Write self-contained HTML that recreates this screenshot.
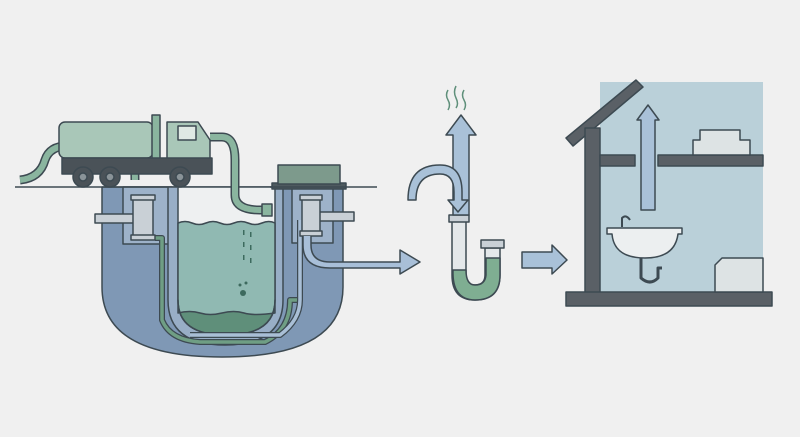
<!DOCTYPE html>
<html><head><meta charset="utf-8"><style>html,body{margin:0;padding:0;background:#f0f0f0}svg{display:block}</style></head>
<body>
<svg width="800" height="437" viewBox="0 0 800 437" xmlns="http://www.w3.org/2000/svg">
<rect width="800" height="437" fill="#f0f0f0"/>
<g stroke="#3d4a52" stroke-width="1.5" stroke-linejoin="round">
<!-- tank -->
<path d="M102 187 H343 V287 Q343 357 222 357 Q102 357 102 287 Z" fill="#7f98b5"/>
<rect x="123" y="187" width="49" height="57" fill="#9db2c9"/>
<rect x="292" y="187" width="41" height="56" fill="#9db2c9"/>
<path d="M168 187 V300 Q168 345 225 345 Q283 345 283 300 V187" fill="#98aec6"/>
<path d="M178 187 V300 Q178 335 226 335 Q275 335 275 300 V187 Z" fill="#eef0f1"/>
<path d="M178 223 Q185 220 192 223 T206 223 T220 223 T234 223 T248 223 T262 223 T275 223 V300 Q275 335 226 335 Q178 335 178 300 Z" fill="#90b9b2"/>
<path d="M178 313 Q190 310 200 313 T222 313 T244 313 T275 313 V300 Q275 335 226 335 Q178 335 178 300 Z" fill="#5f8f7a"/>
<!-- inner pipes -->
<path d="M155 238 H162 V320 Q170 340 200 342 H265 Q290 330 290 300 H300" fill="none" stroke="#3d4a52" stroke-width="6"/>
<path d="M155 238 H162 V320 Q170 340 200 342 H265 Q290 330 290 300 H300" fill="none" stroke="#6f9e84" stroke-width="3.5"/>
<path d="M300 220 V300 Q300 320 280 335 H190" fill="none" stroke="#3d4a52" stroke-width="6"/>
<path d="M300 220 V300 Q300 320 280 335 H190" fill="none" stroke="#a9bfd6" stroke-width="3.5"/>
<!-- T fittings -->
<rect x="95" y="214" width="40" height="9" fill="#c9d0d6"/>
<rect x="133" y="197" width="20" height="42" fill="#c9d0d6"/>
<rect x="131" y="195" width="24" height="5" fill="#c9d0d6"/>
<rect x="131" y="235" width="24" height="5" fill="#c9d0d6"/>
<rect x="318" y="212" width="36" height="9" fill="#c9d0d6"/>
<rect x="302" y="197" width="18" height="38" fill="#c9d0d6"/>
<rect x="300" y="195" width="22" height="5" fill="#c9d0d6"/>
<rect x="300" y="231" width="22" height="5" fill="#c9d0d6"/>
<!-- outlet pipe -->
<path d="M311 236 V245 Q311 262 330 262 H400 V250 L420 262 L400 274 V268 H330 Q303 268 303 245 V236" fill="#a8bfd8"/>
<!-- cover -->
<rect x="272" y="183" width="74" height="6" fill="#4e5a5f"/>
<rect x="278" y="165" width="62" height="19" fill="#7d9a8c"/>
<!-- ground -->
<line x1="15" y1="187" x2="177" y2="187"/><line x1="270" y1="187" x2="377" y2="187"/>
<!-- hoses -->
<path d="M20 180 Q40 178 45 160 Q50 145 70 146 H125 Q135 150 135 180" fill="none" stroke="#3d4a52" stroke-width="9"/>
<path d="M20 180 Q40 178 45 160 Q50 145 70 146 H125 Q135 150 135 180" fill="none" stroke="#8ab59f" stroke-width="6"/>
<path d="M210 137 H222 Q235 137 235 160 V195 Q235 210 260 210 H270" fill="none" stroke="#3d4a52" stroke-width="9"/>
<path d="M210 137 H222 Q235 137 235 160 V195 Q235 210 260 210 H270" fill="none" stroke="#8ab59f" stroke-width="6"/>
<rect x="262" y="204" width="10" height="12" fill="#8ab59f"/>
<!-- truck -->
<rect x="59" y="122" width="94" height="36" rx="6" fill="#a9c7b8"/>
<rect x="152" y="115" width="8" height="45" fill="#8ab59f"/>
<path d="M167 122 H198 L210 140 V165 H167 Z" fill="#a9c7b8"/>
<rect x="178" y="126" width="18" height="14" fill="#dfe9e4"/>
<rect x="62" y="158" width="150" height="16" fill="#4a5258"/>
<circle cx="83" cy="177" r="10" fill="#4a5258"/><circle cx="83" cy="177" r="4" fill="#8a9398"/>
<circle cx="110" cy="177" r="10" fill="#4a5258"/><circle cx="110" cy="177" r="4" fill="#8a9398"/>
<circle cx="180" cy="177" r="10" fill="#4a5258"/><circle cx="180" cy="177" r="4" fill="#8a9398"/>
<!-- trap -->
<path d="M452 220 V275 Q452 300 475 300 Q500 300 500 275 V248 H485 V275 Q485 285 475 285 Q466 285 466 275 V220 Z" fill="#e4e8ea"/>
<path d="M453 270 Q452 300 475 300 Q500 300 500 275 V258 H486 V275 Q485 285 475 285 Q466 285 466 270 Z" fill="#7fae92"/>
<rect x="481" y="240" width="23" height="8" fill="#c9d0d6"/>
<rect x="449" y="215" width="20" height="7" fill="#c9d0d6"/>
<path d="M453 215 V135 H446 L461 115 L476 135 H469 V215 Z" fill="#a9c1d8"/>
<path d="M408 200 Q408 165 440 165 Q462 165 462 192 V200 H468 L458 212 L448 200 H454 V192 Q454 174 440 174 Q416 174 416 200 Z" fill="#a9c1d8"/>
<path d="M522 252 H552 V245 L567 260 L552 274 V268 H522 Z" fill="#a9c1d8"/>
<!-- house -->
<rect x="600" y="82" width="163" height="210" fill="#bad0d9" stroke="none"/>
<path d="M566 138 L636 80 L643 87 L573 146 Z" fill="#5a6066"/>
<rect x="585" y="128" width="15" height="165" fill="#5a6066"/>
<rect x="600" y="155" width="35" height="11" fill="#5a6066"/>
<rect x="658" y="155" width="105" height="11" fill="#5a6066"/>
<rect x="566" y="292" width="206" height="14" fill="#5a6066"/>
<path d="M700 130 H740 V140 H750 V155 H693 V140 H700 Z" fill="#dde3e4"/>
<path d="M722 258 H763 V292 H715 V265 Z" fill="#dde3e4"/>
<path d="M641 210 V120 H637 L648 105 L659 120 H655 V210 Z" fill="#a9c1d8"/>
<path d="M607 228 H682 V234 H678 Q675 258 645 258 Q614 258 612 234 H607 Z" fill="#eceff0"/>
<path d="M641 258 V278 Q650 286 658 278 V268 H662" fill="none" stroke-width="3"/>
<path d="M622 227 V218 Q626 214 630 220" fill="none" stroke-width="2"/>
</g>
<g stroke="#5f8f7a" stroke-width="1.5" fill="none">
<path d="M448 90 Q445 95 448 100 T448 110 M456 86 Q453 92 456 98 T456 108 M464 90 Q461 95 464 100 T464 110"/>
</g>
<g fill="#3d6a5e"><circle cx="243" cy="293" r="3"/><circle cx="240" cy="285" r="1.5"/><circle cx="246" cy="283" r="1.5"/>
<rect x="243" y="230" width="1.5" height="5"/><rect x="250" y="232" width="1.5" height="5"/><rect x="243" y="242" width="1.5" height="5"/><rect x="250" y="245" width="1.5" height="5"/><rect x="243" y="255" width="1.5" height="5"/><rect x="250" y="258" width="1.5" height="5"/></g>
</svg>
</body></html>
